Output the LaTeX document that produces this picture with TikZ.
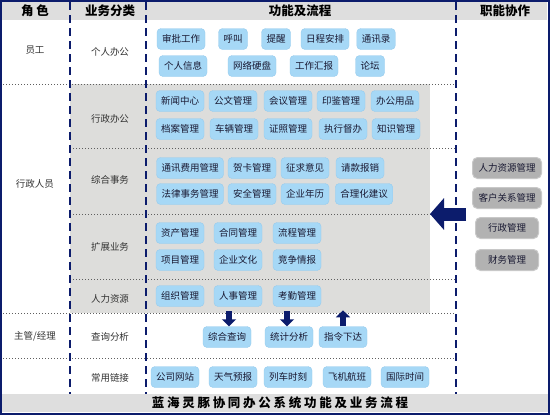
\documentclass[tikz,border=0pt]{standalone}
\usepackage{fontspec}
\setmainfont{Noto Sans CJK SC}
\newfontfamily\widefont[LetterSpace=22]{Noto Sans CJK SC}
\usetikzlibrary{arrows.meta}

\definecolor{navy}{RGB}{12,28,108}
\definecolor{funcblue}{RGB}{166,216,246}
\definecolor{funcedge}{RGB}{150,204,238}
\definecolor{dutygray}{RGB}{178,178,178}
\definecolor{dutyedge}{RGB}{200,200,200}
\definecolor{areagray}{RGB}{221,221,219}
\definecolor{headgray}{RGB}{222,222,222}
\definecolor{sepgray}{RGB}{95,95,95}
\definecolor{boxtext}{RGB}{25,25,50}

\tikzset{
	func/.style={fill=funcblue, draw=funcedge, rounded corners=4pt, minimum height=21pt,
		inner xsep=5pt, inner ysep=0pt, text=boxtext, font=\fontsize{9.5}{10}\selectfont},
	duty/.style={fill=dutygray, draw=dutyedge, line width=1pt, rounded corners=5pt,
		minimum height=21pt, minimum width=63pt, inner xsep=6pt, inner ysep=0pt,
		text=boxtext, font=\fontsize{9.5}{10}\selectfont},
	colhead/.style={text=black, font=\fontsize{12.5}{13}\selectfont\bfseries},
	rolename/.style={text=black!80, font=\fontsize{9.5}{10}\selectfont},
	rowsep/.style={draw=sepgray, line width=1pt, dash pattern=on 1pt off 2pt},
	colsep/.style={draw=navy, line width=2pt, dash pattern=on 8pt off 5pt},
	flowarrow/.style={draw=navy, line width=6pt, -{Triangle[width=14pt,length=7pt]}}
}

\begin{document}
\begin{tikzpicture}[x=1pt, y=-1pt]
		\useasboundingbox (0,0) rectangle (550,415);
		\fill[white] (0,0) rectangle (550,415);
		% header, footer and grey area
		\fill[headgray] (2,2) rectangle (547,20);
		\fill[headgray] (2,394) rectangle (548,412);
		\fill[areagray] (70,84) rectangle (430,313);
		\draw[rowsep] (0,84) -- (455,84);
		\draw[rowsep] (70,148) -- (455,148);
		\draw[rowsep] (70,214) -- (455,214);
		\draw[rowsep] (70,279) -- (455,279);
		\draw[rowsep] (0,313) -- (455,313);
		\draw[rowsep] (0,358) -- (455,358);
		\draw[colsep] (70,2) -- (70,394);
		\draw[colsep] (146,2) -- (146,394);
		\draw[colsep] (456,2) -- (456,394);
		\draw[navy, line width=2pt] (1,1) rectangle (549,414);
		% column heads
		\node[colhead] (hrole) at (35,11) {角\ 色};
		\node[colhead] (hcat) at (110,11) {业务分类};
		\node[colhead] (hfunc) at (300,11) {功能及流程};
		\node[colhead] (hduty) at (505,11) {职能协作};
		\node[colhead] (title) at (280,403) {\widefont 蓝海灵豚协同办公系统功能及业务流程};
		% roles and categories
		\node[rolename] (staff) at (35,50) {员工};
		\node[rolename] (admin) at (35,184) {行政人员};
		\node[rolename] (boss) at (35,336) {主管/经理};
		\node[rolename] (personal) at (110,52) {个人办公};
		\node[rolename] (office) at (110,119) {行政办公};
		\node[rolename] (general) at (110,180) {综合事务};
		\node[rolename] (extend) at (110,247) {扩展业务};
		\node[rolename] (hr) at (110,299) {人力资源};
		\node[rolename] (query) at (110,337) {查询分析};
		\node[rolename] (links) at (110,378) {常用链接};
		% personal office
		\node[func] (approve) at (181,39) {审批工作};
		\node[func] (call) at (233,39) {呼叫};
		\node[func] (remind) at (276,39) {提醒};
		\node[func] (agenda) at (325,39) {日程安排};
		\node[func] (contacts) at (376,39) {通讯录};
		\node[func] (info) at (183,66) {个人信息};
		\node[func] (disk) at (252,66) {网络硬盘};
		\node[func] (report) at (314,66) {工作汇报};
		\node[func] (forum) at (370,66) {论坛};
		% administration office
		\node[func] (news) at (180,101) {新闻中心};
		\node[func] (docs) at (233,101) {公文管理};
		\node[func] (meeting) at (288,101) {会议管理};
		\node[func] (seal) at (341,101) {印鉴管理};
		\node[func] (supply) at (395,101) {办公用品};
		\node[func] (archive) at (180,129) {档案管理};
		\node[func] (vehicle) at (234,129) {车辆管理};
		\node[func] (license) at (288,129) {证照管理};
		\node[func] (supervise) at (343,129) {执行督办};
		\node[func] (knowledge) at (396,129) {知识管理};
		% general affairs
		\node[func] (phonefee) at (190,168) {通讯费用管理};
		\node[func] (card) at (252,168) {贺卡管理};
		\node[func] (opinion) at (305,168) {征求意见};
		\node[func] (payment) at (360,168) {请款报销};
		\node[func] (legal) at (190,194) {法律事务管理};
		\node[func] (safety) at (252,194) {安全管理};
		\node[func] (calendar) at (305,194) {企业年历};
		\node[func] (advice) at (364,194) {合理化建议};
		% extended business
		\node[func] (assets) at (180,233) {资产管理};
		\node[func] (contract) at (238,233) {合同管理};
		\node[func] (process) at (297,233) {流程管理};
		\node[func] (project) at (180,260) {项目管理};
		\node[func] (culture) at (238,260) {企业文化};
		\node[func] (rival) at (297,260) {竞争情报};
		% human resources
		\node[func] (org) at (180,296) {组织管理};
		\node[func] (staffing) at (238,296) {人事管理};
		\node[func] (attend) at (297,296) {考勤管理};
		% query and analysis
		\node[func] (search) at (227,337) {综合查询};
		\node[func] (stats) at (289,337) {统计分析};
		\node[func] (order) at (343,337) {指令下达};
		% common links
		\node[func] (site) at (175,377) {公司网站};
		\node[func] (weather) at (233,377) {天气预报};
		\node[func] (train) at (288,377) {列车时刻};
		\node[func] (flight) at (347,377) {飞机航班};
		\node[func] (clock) at (405,377) {国际时间};
		% duties
		\node[duty] (hrm) at (507,168) {人力资源管理};
		\node[duty] (crm) at (507,198) {客户关系管理};
		\node[duty] (adm) at (507,228) {行政管理};
		\node[duty] (fin) at (507,260) {财务管理};
		% arrows
		\draw[flowarrow] (search.north) ++(2,-15) -- ++(0,15);
		\draw[flowarrow] (stats.north) ++(-2,-15) -- ++(0,15);
		\draw[flowarrow] (order.north) -- ++(0,-16);
		\coordinate (dutyin) at (466,214);
		\coordinate (hub) at (430,214);
		\draw[navy, line width=13pt, -{Triangle[width=31pt,length=14pt]}] (dutyin) -- (hub);
	\end{tikzpicture}
\end{document}
